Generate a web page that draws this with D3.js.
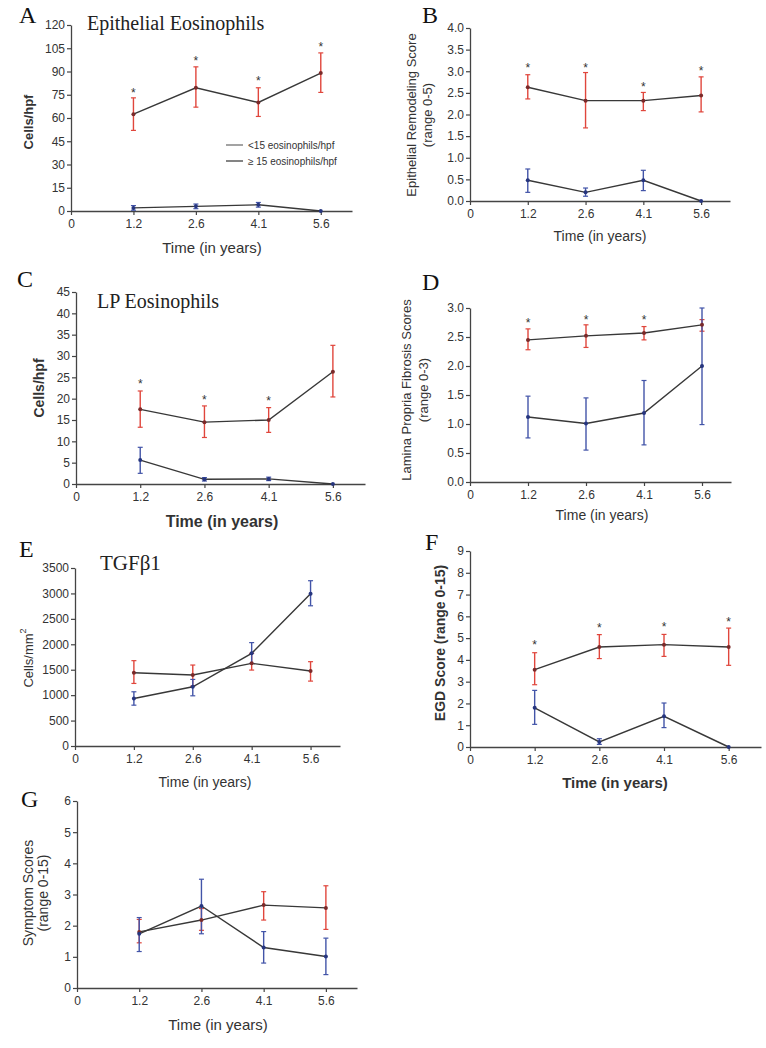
<!DOCTYPE html>
<html>
<head>
<meta charset="utf-8">
<script src="https://cdn.jsdelivr.net/npm/d3@7"></script>
<style>
  html, body { margin: 0; padding: 0; background: #fff; }
  svg { display: block; }
  .tick text { font-family: "Liberation Sans", Arial, sans-serif; fill: #333; }
</style>
</head>
<body>
<svg id="chart" width="766" height="1048"></svg>
<script>
// ---------- data ----------
const xLabels = ["0", "1.2", "2.6", "4.1", "5.6"];
const legendLabels = ["<15 eosinophils/hpf", "\u2265 15 eosinophils/hpf"];

// A: Epithelial eosinophils (cells/hpf)
const epiEosHigh   = [62.5, 79.5, 70, 89];
const epiEosHighLo = [52, 67, 61, 76.5];
const epiEosHighHi = [73, 93, 79.5, 102];
const epiEosLow    = [2, 3, 4, 0];
const epiEosLowLo  = [0.5, 1.5, 2.5, 0];
const epiEosLowHi  = [3.5, 4.5, 5.5, 0];
const epiEosStars  = [77.5, 98, 85, 107];

// B: Epithelial remodeling score
const remodHigh   = [2.63, 2.32, 2.32, 2.44];
const remodHighLo = [2.36, 1.69, 2.09, 2.06];
const remodHighHi = [2.92, 2.97, 2.51, 2.87];
const remodLow    = [0.48, 0.2, 0.48, 0];
const remodLowLo  = [0.2, 0.11, 0.24, 0];
const remodLowHi  = [0.74, 0.3, 0.71, 0];
const remodStars  = [3.11, 3.13, 2.69, 3.06];

// C: LP eosinophils (cells/hpf)
const lpEosHigh   = [17.5, 14.5, 15, 26.3];
const lpEosHighLo = [13.3, 10.9, 12.1, 20.4];
const lpEosHighHi = [21.8, 18.3, 17.9, 32.5];
const lpEosLow    = [5.6, 1.1, 1.2, 0];
const lpEosLowLo  = [2.5, 0.7, 0.8, 0];
const lpEosLowHi  = [8.6, 1.5, 1.6, 0];
const lpEosStars  = [23.9, 20.2, 20.0, null];

// D: Lamina propria fibrosis scores
const fibHigh   = [2.45, 2.52, 2.57, 2.71];
const fibHighLo = [2.28, 2.32, 2.45, 2.6];
const fibHighHi = [2.64, 2.71, 2.68, 2.8];
const fibLow    = [1.12, 1.01, 1.19, 2.0];
const fibLowLo  = [0.76, 0.55, 0.64, 0.99];
const fibLowHi  = [1.48, 1.45, 1.75, 3.0];
const fibStars  = [2.77, 2.83, 2.82, null];

// E: TGFb1 (cells/mm2)
const tgfHigh   = [1441, 1395, 1625, 1474];
const tgfHighLo = [1230, 1178, 1493, 1276];
const tgfHighHi = [1678, 1592, 1822, 1658];
const tgfLow    = [934, 1164, 1822, 2993];
const tgfLowLo  = [803, 987, 1625, 2757];
const tgfLowHi  = [1066, 1309, 2033, 3250];
const tgfStars  = [null, null, null, null];

// F: EGD score
const egdHigh   = [3.55, 4.59, 4.7, 4.59];
const egdHighLo = [2.86, 4.06, 4.16, 3.75];
const egdHighHi = [4.33, 5.16, 5.17, 5.46];
const egdLow    = [1.8, 0.23, 1.41, 0];
const egdLowLo  = [1.04, 0.12, 0.89, 0];
const egdLowHi  = [2.6, 0.38, 2.02, 0];
const egdStars  = [4.78, 5.54, 5.59, 5.85];

// G: Symptom scores
const symHigh   = [1.8, 2.18, 2.66, 2.57];
const symHighLo = [1.45, 1.85, 2.18, 1.88];
const symHighHi = [2.2, 2.55, 3.09, 3.28];
const symLow    = [1.74, 2.63, 1.3, 1.01];
const symLowLo  = [1.17, 1.74, 0.8, 0.43];
const symLowHi  = [2.26, 3.49, 1.81, 1.6];
const symStars  = [null, null, null, null];

// ---------- drawing ----------
const SANS = "'Liberation Sans', Arial, sans-serif";
const SERIF = "'Liberation Serif', 'Times New Roman', serif";
const RED = "#e0463c";
const BLUE = "#4254a8";
const LINE = "#383838";
const svg = d3.select("#chart");

const panels = [
  { letter: "A", lx: 19, ly: 23, title: "Epithelial Eosinophils", tx: 87, ty: 30, titleSize: 20,
    left: 71, right: 352, top: 25, bottom: 211, yMax: 120, yStep: 15, fmt: d3.format("d"),
    ylab: ["Cells/hpf"], ylx: [28], yly: 122, ylSize: 13, ylWeight: "bold",
    xt: [212, 253], xtSize: 15, xtWeight: "normal",
    high: [epiEosHigh, epiEosHighLo, epiEosHighHi], low: [epiEosLow, epiEosLowLo, epiEosLowHi], stars: epiEosStars, legend: true },
  { letter: "B", lx: 422, ly: 23,
    left: 470, right: 730, top: 28, bottom: 201, yMax: 4, yStep: 0.5, fmt: d3.format(".1f"),
    ylab: ["Epithelial Remodeling Score", "(range 0-5)"], ylx: [411, 427], yly: 115, ylSize: 13, ylWeight: "normal",
    xt: [600, 241], xtSize: 14, xtWeight: "normal",
    high: [remodHigh, remodHighLo, remodHighHi], low: [remodLow, remodLowLo, remodLowHi], stars: remodStars },
  { letter: "C", lx: 17, ly: 287, title: "LP Eosinophils", tx: 97, ty: 308, titleSize: 20,
    left: 76, right: 365, top: 292, bottom: 484, yMax: 45, yStep: 5, fmt: d3.format("d"),
    ylab: ["Cells/hpf"], ylx: [39], yly: 388, ylSize: 14, ylWeight: "bold",
    xt: [222, 527], xtSize: 16, xtWeight: "bold",
    high: [lpEosHigh, lpEosHighLo, lpEosHighHi], low: [lpEosLow, lpEosLowLo, lpEosLowHi], stars: lpEosStars },
  { letter: "D", lx: 422, ly: 290,
    left: 470, right: 731, top: 308, bottom: 482, yMax: 3, yStep: 0.5, fmt: d3.format(".1f"),
    ylab: ["Lamina Propria Fibrosis Scores", "(range 0-3)"], ylx: [406, 423], yly: 390, ylSize: 13, ylWeight: "normal",
    xt: [602, 520], xtSize: 14, xtWeight: "normal",
    high: [fibHigh, fibHighLo, fibHighHi], low: [fibLow, fibLowLo, fibLowHi], stars: fibStars },
  { letter: "E", lx: 19, ly: 557, title: "TGF\u03B21", tx: 100, ty: 570, titleSize: 21,
    left: 75, right: 340, top: 568, bottom: 746, yMax: 3500, yStep: 500, fmt: d3.format("d"),
    ylab: ["Cells/mm"], sup: "2", ylx: [28], yly: 658, ylSize: 13, ylWeight: "normal",
    xt: [205, 787], xtSize: 14, xtWeight: "normal",
    high: [tgfHigh, tgfHighLo, tgfHighHi], low: [tgfLow, tgfLowLo, tgfLowHi], stars: tgfStars },
  { letter: "F", lx: 425, ly: 550,
    left: 470, right: 761, top: 551, bottom: 747, yMax: 9, yStep: 1, fmt: d3.format("d"),
    ylab: ["EGD Score (range 0-15)"], ylx: [440], yly: 643, ylSize: 14, ylWeight: "bold",
    xt: [615, 788], xtSize: 15, xtWeight: "bold",
    high: [egdHigh, egdHighLo, egdHighHi], low: [egdLow, egdLowLo, egdLowHi], stars: egdStars },
  { letter: "G", lx: 21, ly: 807,
    left: 77, right: 357, top: 801, bottom: 988, yMax: 6, yStep: 1, fmt: d3.format("d"),
    ylab: ["Symptom Scores", "(range 0-15)"], ylx: [28, 43], yly: 893, ylSize: 14, ylWeight: "normal",
    xt: [218, 1030], xtSize: 15, xtWeight: "normal",
    high: [symHigh, symHighLo, symHighHi], low: [symLow, symLowLo, symLowHi], stars: symStars }
];

panels.forEach(p => {
  const g = svg.append("g");
  const x = d3.scaleLinear().domain([0, 4.5]).range([p.left, p.right]);
  const y = d3.scaleLinear().domain([0, p.yMax]).range([p.bottom, p.top]);

  // axes
  const yTicks = d3.range(0, p.yMax + p.yStep / 2, p.yStep);
  const yAxis = d3.axisLeft(y).tickValues(yTicks).tickFormat(p.fmt).tickSize(4).tickPadding(2).tickSizeOuter(0);
  const xAxis = d3.axisBottom(x).tickValues([0, 1, 2, 3, 4]).tickFormat(i => xLabels[i]).tickSize(4).tickPadding(4).tickSizeOuter(0);
  const ya = g.append("g").attr("transform", `translate(${p.left},0)`).call(yAxis);
  const xa = g.append("g").attr("transform", `translate(0,${p.bottom})`).call(xAxis);
  [ya, xa].forEach(a => {
    a.select(".domain").attr("stroke", "#444").attr("stroke-width", 1.3);
    a.selectAll(".tick line").attr("stroke", "#444").attr("stroke-width", 1.2);
    a.selectAll(".tick text").attr("font-size", 12).attr("fill", "#333").attr("font-family", SANS);
  });

  // letter
  g.append("text").attr("x", p.lx).attr("y", p.ly).attr("font-family", SERIF).attr("font-size", 24)
    .attr("fill", "#111").text(p.letter);
  if (p.title) {
    g.append("text").attr("x", p.tx).attr("y", p.ty).attr("font-family", SERIF).attr("font-size", p.titleSize)
      .attr("fill", "#222").text(p.title);
  }

  // y label
  p.ylab.forEach((t, k) => {
    const tx = g.append("text")
      .attr("transform", `translate(${p.ylx[k]},${p.yly}) rotate(-90)`)
      .attr("text-anchor", "middle").attr("dominant-baseline", "central")
      .attr("font-family", SANS).attr("font-size", p.ylSize).attr("font-weight", p.ylWeight)
      .attr("fill", "#333").text(t);
    if (p.sup && k === 0) {
      tx.append("tspan").attr("dy", -5).attr("font-size", p.ylSize * 0.7).text(p.sup);
    }
  });
  // x title
  g.append("text").attr("x", p.xt[0]).attr("y", p.xt[1]).attr("text-anchor", "middle")
    .attr("font-family", SANS).attr("font-size", p.xtSize).attr("font-weight", p.xtWeight)
    .attr("fill", "#333").text("Time (in years)");

  const idx = [1, 2, 3, 4];
  const series = [
    { d: p.high, color: RED, marker: "#7a2a2a" },
    { d: p.low, color: BLUE, marker: "#26357e" }
  ];
  // error bars
  series.forEach(s => {
    const [m, lo, hi] = s.d;
    idx.forEach((xi, i) => {
      if (hi[i] - lo[i] <= 0) return;
      const cx = x(xi);
      g.append("line").attr("x1", cx).attr("x2", cx).attr("y1", y(lo[i])).attr("y2", y(hi[i]))
        .attr("stroke", s.color).attr("stroke-width", 1.4);
      [lo[i], hi[i]].forEach(v => {
        g.append("line").attr("x1", cx - 2.5).attr("x2", cx + 2.5).attr("y1", y(v)).attr("y2", y(v))
          .attr("stroke", s.color).attr("stroke-width", 1.2);
      });
    });
  });
  // lines
  series.forEach(s => {
    const m = s.d[0];
    g.append("path").datum(idx.map((xi, i) => [xi, m[i]]))
      .attr("d", d3.line().x(d => x(d[0])).y(d => y(d[1])))
      .attr("fill", "none").attr("stroke", LINE).attr("stroke-width", 1.4);
  });
  // markers
  series.forEach(s => {
    const m = s.d[0];
    idx.forEach((xi, i) => {
      g.append("circle").attr("cx", x(xi)).attr("cy", y(m[i])).attr("r", 2)
        .attr("fill", s.marker);
    });
  });
  // stars
  idx.forEach((xi, i) => {
    const v = p.stars[i];
    if (v === null || v === undefined) return;
    g.append("text").attr("x", x(xi)).attr("y", y(v) + 6).attr("text-anchor", "middle")
      .attr("font-family", SANS).attr("font-size", 12).attr("fill", "#333").text("*");
  });

  // legend
  if (p.legend) {
    legendLabels.forEach((t, k) => {
      const ly = 145 + k * 16;
      g.append("line").attr("x1", 226).attr("x2", 243).attr("y1", ly).attr("y2", ly)
        .attr("stroke", k === 0 ? "#666" : "#333").attr("stroke-width", 1.2);
      g.append("text").attr("x", 248).attr("y", ly).attr("dominant-baseline", "central")
        .attr("font-family", SANS).attr("font-size", 10).attr("fill", "#333").text(t);
    });
  }
});
</script>
</body>
</html>
